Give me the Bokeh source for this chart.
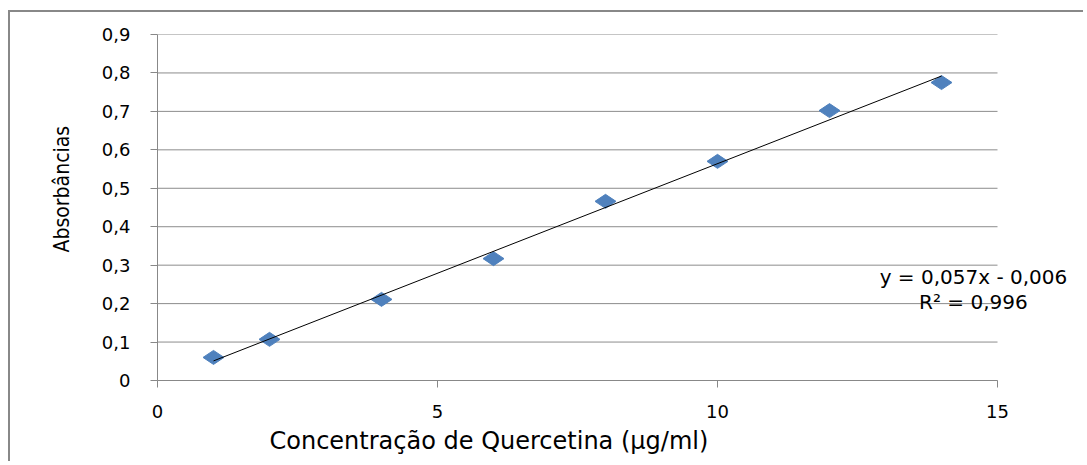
import numpy as np
from bokeh.plotting import figure
from bokeh.models import FixedTicker, CustomJSTickFormatter, Label, Title
from bokeh.embed import file_html
from bokeh.resources import INLINE

# ---- data ----
conc = [1, 2, 4, 6, 8, 10, 12, 14]
absorbance = [0.060, 0.107, 0.211, 0.317, 0.466, 0.570, 0.702, 0.775]
slope = 0.057
intercept = -0.006
x_ticks = [0, 5, 10, 15]
y_ticks = [0, 0.1, 0.2, 0.3, 0.4, 0.5, 0.6, 0.7, 0.8, 0.9]
equation_text = "y = 0,057x - 0,006"
r2_text = "R² = 0,996"
x_label = "Concentração de Quercetina  (µg/ml)"
y_label = "Absorbâncias"

trend_x = [conc[0], conc[-1]]
trend_y = [slope * v + intercept for v in trend_x]

GRAY = "#888888"
TICK_FONT = "DejaVu Sans"

p = figure(width=1075, height=451, x_range=(0, 16.5), y_range=(0, 0.9),
           output_backend="svg", toolbar_location=None,
           min_border_left=147, min_border_right=4,
           min_border_top=22, min_border_bottom=83)
p.styles = {"border-top": "2px solid #888888", "border-left": "2px solid #888888",
            "margin-top": "10px", "margin-left": "8px"}
p.background_fill_color = "white"
p.border_fill_color = "white"
p.outline_line_color = None

p.xaxis.ticker = FixedTicker(ticks=x_ticks)
p.yaxis.ticker = FixedTicker(ticks=y_ticks)
p.xaxis.bounds = (x_ticks[0], x_ticks[-1])
p.yaxis.formatter = CustomJSTickFormatter(
    code="return tick === 0 ? '0' : tick.toFixed(1).replace('.', ',');")

for ax in (p.xaxis[0], p.yaxis[0]):
    ax.axis_line_color = GRAY
    ax.major_tick_line_color = GRAY
    ax.minor_tick_line_color = None
    ax.major_tick_out = 7
    ax.major_tick_in = 0
    ax.major_label_text_font = TICK_FONT
    ax.major_label_text_font_size = "18px"
    ax.major_label_text_color = "black"

p.xaxis.major_label_standoff = 17
p.yaxis.major_label_standoff = 20

p.xgrid.grid_line_color = None
p.ygrid.grid_line_color = None
# horizontal gridlines limited to the 0..15 span of the x axis
p.segment(x0=[x_ticks[0]] * len(y_ticks), x1=[x_ticks[-1]] * len(y_ticks),
          y0=y_ticks, y1=y_ticks, line_color="#8c8c8c", line_width=1)

p.scatter(conc, absorbance, marker="diamond", size=21, angle=np.pi / 2,
          fill_color="#4F81BD", line_color="#4F81BD")
p.line(trend_x, trend_y, line_color="black", line_width=1)

p.add_layout(Label(x=14.57, y=0.2705, text=equation_text, text_align="center",
                   text_baseline="middle", text_font="DejaVu Sans",
                   text_font_size="20px", text_color="black"))
p.add_layout(Label(x=14.57, y=0.203, text=r2_text, text_align="center",
                   text_baseline="middle", text_font="DejaVu Sans",
                   text_font_size="20px", text_color="black"))

p.add_layout(Title(text=x_label, align="left", offset=112, text_font="DejaVu Sans",
                   text_font_size="24px", text_font_style="normal",
                   text_color="black", standoff=9), "below")
p.add_layout(Title(text=y_label, align="left", offset=128,
                   text_font="DejaVu Sans Condensed", text_font_size="21px",
                   text_font_style="normal", text_color="black", standoff=50), "left")

open("out.html", "w").write(file_html(p, INLINE, title="Curva de calibração"))
